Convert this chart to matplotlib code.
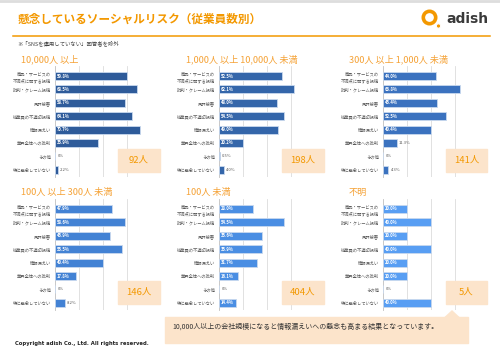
import matplotlib
matplotlib.use("Agg")
import matplotlib.pyplot as plt
from matplotlib.patches import Rectangle, Polygon, Circle

plt.rcParams['font.family'] = ['Noto Sans CJK JP', 'DejaVu Sans']

W, H = 500, 354

categories = ['商品・サービスの\n不満点に関する投稿', '批判・クレーム投稿', '風評被害',
              '従業員の不適切投稿', '情報漏えい', '業界全体への批判', 'その他', '特に懸念していない']

panel_titles = ['10,000人 以上', '1,000人 以上 10,000人 未満', '300人 以上 1,000人 未満',
                '100人 以上 300人 未満', '100人 未満', '不明']
counts = ['92人', '198人', '141人', '146人', '404人', '5人']

vals_10000 = [59.8, 68.5, 58.7, 64.1, 70.7, 35.9, 0, 2.2]
vals_1000 = [52.5, 62.1, 48.0, 54.5, 49.0, 20.2, 0.5, 4.0]
vals_300 = [44.0, 63.8, 45.4, 52.5, 40.4, 11.3, 0, 4.3]
vals_100 = [47.9, 58.6, 45.9, 55.5, 40.4, 17.8, 0, 8.2]
vals_under100 = [28.0, 54.5, 35.6, 35.9, 31.7, 16.1, 0, 14.4]
vals_unknown = [20.0, 40.0, 20.0, 40.0, 20.0, 20.0, 0, 40.0]
all_vals = [vals_10000, vals_1000, vals_300, vals_100, vals_under100, vals_unknown]

bar_colors = ['#2E5B9A', '#3466AA', '#3B72BF', '#4382D4', '#4A8EE3', '#589EF3']

ORANGE = '#F39800'
TITLE_OR = '#F5A236'
PEACH = '#FCE4CB'

fig = plt.figure(figsize=(W / 100, H / 100), dpi=100)
fig.patch.set_facecolor('white')

# overlay axes in pixel coords for decorations
deco = fig.add_axes([0, 0, 1, 1], zorder=0)
deco.set_xlim(0, W)
deco.set_ylim(H, 0)
deco.axis('off')


def px_axes(x0, y0, x1, y1):
    return fig.add_axes([x0 / W, 1 - y1 / H, (x1 - x0) / W, (y1 - y0) / H], zorder=2)


# header
deco.plot([0, W], [1, 1], color='#DDDDDD', lw=2)
deco.text(18, 19.5, '懸念しているソーシャルリスク（従業員数別）', color=ORANGE,
          fontsize=8.4, fontweight='bold', va='center', ha='left')
deco.plot([13, 490], [36, 36], color=ORANGE, lw=1.1)
deco.text(17, 43.5, '※「SNSを運用していない」回答者を除外', color='#444444',
          fontsize=3.9, va='center', ha='left')

# logo
deco.add_patch(Circle((429.5, 17.5), 6.2, fill=False, ec=ORANGE, lw=2.6))
deco.add_patch(Circle((438.5, 26.0), 2.2, color=ORANGE, ec='white', lw=0.8))
deco.text(446, 19, 'adish', color='#3A3A3A', fontsize=10, fontweight='bold',
          va='center', ha='left', family=['DejaVu Sans'])

col_axis_x = [55, 219, 383]
col_title_x = [21, 186, 349]
row_title_y = [59, 192]
row_bar_top = [72, 205]
pitch = 13.4

for i in range(6):
    r, c = divmod(i, 3)
    vals = all_vals[i]
    ax0 = col_axis_x[c]
    top_c = row_bar_top[r] + 4
    y_top = top_c - 10.5
    y_bot = top_c + 7 * pitch + 7.5
    ax = px_axes(ax0, y_top, ax0 + 96, y_bot)
    ypos = list(range(len(categories)))
    ax.barh(ypos, vals, height=0.6, color=bar_colors[i],
            edgecolor='#C9D9EE', linewidth=0.6, zorder=3)
    ax.set_xlim(0, 80)
    ax.set_ylim(7 + 7.5 / pitch, -10.5 / pitch)
    ax.set_xticks([20, 40, 60, 80])
    ax.grid(axis='x', color='#DCDCDC', lw=0.6, zorder=0)
    ax.set_yticks(ypos)
    ax.set_yticklabels(categories, fontsize=3.1, color='#595959', linespacing=1.4)
    ax.tick_params(length=0, pad=3, labelbottom=False)
    for s in ['top', 'right', 'bottom']:
        ax.spines[s].set_visible(False)
    ax.spines['left'].set_color('#BFBFBF')
    ax.spines['left'].set_linewidth(0.6)
    ax.set_facecolor('none')
    for y, v in zip(ypos, vals):
        lab = f'{v:.1f}%' if v > 0 else '0%'
        if v >= 14:
            ax.text(1.2, y, lab, color='white', fontsize=3.0, va='center',
                    ha='left', zorder=4, fontweight='bold')
        else:
            ax.text(v + 2.0, y, lab, color='#595959', fontsize=3.0,
                    va='center', ha='left', zorder=4)

    deco.text(col_title_x[c], row_title_y[r], panel_titles[i], color=TITLE_OR,
              fontsize=6.6, va='center', ha='left')

# count boxes
box_x = [118, 282, 446]
box_y = [149, 281]
for i in range(6):
    r, c = divmod(i, 3)
    bx, by = box_x[c], box_y[r]
    bw = 42 if c < 2 else 41
    box = Rectangle((bx / W, 1 - (by + 23) / H), bw / W, 23 / H,
                    transform=fig.transFigure, color=PEACH, zorder=5)
    fig.add_artist(box)
    fig.text((bx + bw / 2) / W, 1 - (by + 11.5) / H, counts[i], color=ORANGE,
             fontsize=6.8, ha='center', va='center', zorder=6)

# callout
callout = Rectangle((165 / W, 1 - 343 / H), 303 / W, 26 / H,
                    transform=fig.transFigure, color=PEACH, zorder=5)
fig.add_artist(callout)
tri = Polygon([[445 / W, 1 - 317.5 / H], [459 / W, 1 - 317.5 / H], [452 / W, 1 - 311 / H]],
              closed=True, transform=fig.transFigure, color=PEACH, zorder=5)
fig.add_artist(tri)
fig.text(172 / W, 1 - 327 / H,
         '10,000人以上の会社規模になると情報漏えいへの懸念も高まる結果となっています。',
         color='#333333', fontsize=5.0, ha='left', va='center', zorder=6)

deco.text(15, 344, 'Copyright adish Co., Ltd. All rights reserved.', color='#222222',
          fontsize=3.8, fontweight='bold', va='center', ha='left', family=['DejaVu Sans'])

fig.savefig('out.png', dpi=100)
